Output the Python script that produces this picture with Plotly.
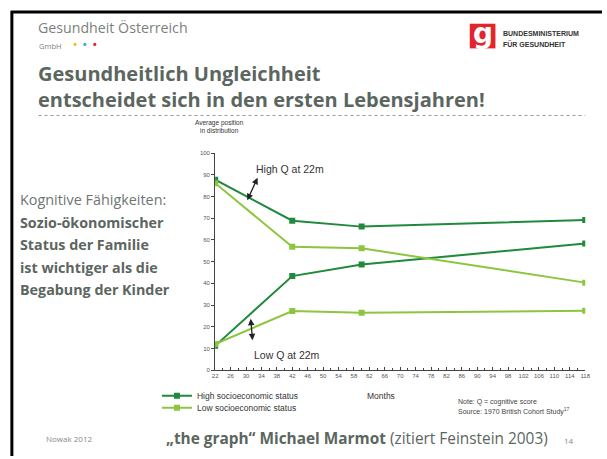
import plotly.graph_objects as go

W, H = 607, 459

months = [22, 42, 60, 118]
high_ses_high_q = [87.7, 68.8, 66.1, 69.2]
low_ses_high_q = [86.1, 56.8, 56.1, 40.3]
high_ses_low_q = [11.2, 43.3, 48.7, 58.3]
low_ses_low_q = [12.0, 27.2, 26.4, 27.3]

x_ticks = list(range(22, 119, 4))
y_ticks = list(range(0, 101, 10))

DARK = "#1f8a3b"
LIGHT = "#8cc63e"
SLIDE = "#5c6660"
CHART_FONT = "Liberation Sans"
SLIDE_FONT = "Open Sans"


def px(x):
    return x / W


def py(y):
    return 1 - y / H


fig = go.Figure()

series = [
    (high_ses_high_q, DARK, "High socioeconomic status", True, "legend"),
    (high_ses_low_q, DARK, "High socioeconomic status", False, "legend"),
    (low_ses_high_q, LIGHT, "Low socioeconomic status", True, "legend2"),
    (low_ses_low_q, LIGHT, "Low socioeconomic status", False, "legend2"),
]
for vals, col, name, show, lg in series:
    fig.add_trace(go.Scatter(
        x=months, y=vals, mode="lines+markers", name=name,
        legend=lg, legendgroup=lg, showlegend=show,
        line=dict(color=col, width=2),
        marker=dict(symbol="square", size=6, color=col),
    ))

leg_common = dict(xanchor="left", yanchor="middle",
                  font=dict(family=CHART_FONT, size=8.5, color="#333"),
                  itemwidth=30, bgcolor="rgba(0,0,0,0)", borderwidth=0)

fig.update_layout(
    width=W, height=H,
    margin=dict(l=0, r=0, t=0, b=0),
    paper_bgcolor="white", plot_bgcolor="white",
    showlegend=True,
    legend=dict(x=px(156), y=py(398), **leg_common),
    legend2=dict(x=px(156), y=py(410), **leg_common),
    xaxis=dict(
        domain=[px(215), px(590)], range=[22, 118],
        tickvals=x_ticks, ticktext=[str(v) for v in x_ticks],
        showline=True, linecolor="#444", linewidth=1,
        ticks="inside", ticklen=3, tickcolor="#444",
        minor=dict(dtick=2, tick0=22, ticks="inside", ticklen=2, tickcolor="#444"),
        showgrid=False, zeroline=False,
        tickfont=dict(family=CHART_FONT, size=6, color="#555"),
        anchor="y",
    ),
    yaxis=dict(
        domain=[py(372), py(152)], range=[0, 100],
        tickvals=y_ticks,
        showline=True, linecolor="#444", linewidth=1,
        ticks="outside", ticklen=3, tickcolor="#444",
        showgrid=False, zeroline=False,
        tickfont=dict(family=CHART_FONT, size=6, color="#555"),
        anchor="x",
    ),
)

ann = []


def text(x, y, s, size, color=SLIDE, family=SLIDE_FONT, xanchor="left", yanchor="middle", align="left"):
    ann.append(dict(x=px(x), y=py(y), xref="paper", yref="paper", text=s, showarrow=False,
                    xanchor=xanchor, yanchor=yanchor, align=align,
                    font=dict(family=family, size=size, color=color)))


# Header
text(33, 25, "Gesundheit Österreich", 14.2, color="#7b807d")
text(34, 44, "GmbH", 7.5, color="#7b807d")
text(505, 31, "<b>BUNDESMINISTERIUM</b>", 7, color="#333", family=CHART_FONT)
text(505, 42, "<b>FÜR GESUNDHEIT</b>", 7, color="#333", family=CHART_FONT)
ann.append(dict(x=px(486), y=py(31), xref="paper", yref="paper", text="<b>g</b>", showarrow=False,
                font=dict(family="DejaVu Sans", size=28, color="white"), xanchor="center", yanchor="middle"))

# Title
text(33, 85, "<b>Gesundheitlich Ungleichheit<br>entscheidet sich in den ersten Lebensjahren!</b>", 20)

# Left text
text(15, 199, "Kognitive Fähigkeiten:", 14.4, color="#6e7571")
text(15, 222, "<b>Sozio-ökonomischer</b>", 14.3)
text(15, 245, "<b>Status der Familie</b>", 14.3)
text(15, 268, "<b>ist wichtiger als die</b>", 14.3)
text(15, 290, "<b>Begabung der Kinder</b>", 14.3)

# Chart labels
text(219, 125, "Average position<br>in distribution", 6.5, color="#333", family=CHART_FONT,
     xanchor="center", align="center")
text(254, 168, "High Q at 22m", 10.5, color="#333", family=CHART_FONT)
text(252, 357, "Low Q at 22m", 10.5, color="#333", family=CHART_FONT)
text(383, 398, "Months", 8.5, color="#333", family=CHART_FONT, xanchor="center")
text(459, 404, "Note: Q = cognitive score", 7, color="#444", family=CHART_FONT)
text(459, 414, "Source: 1970 British Cohort Study<sup>17</sup>", 7, color="#444", family=CHART_FONT)

# Footer
text(42, 441, "Nowak 2012", 8, color="#888")
text(163, 441, "<b>„the graph“ Michael Marmot</b> (zitiert Feinstein 2003)", 15.4)
text(566, 443, "14", 8, color="#888")

# Arrows
for (x0, y0, x1, y1) in [(247, 201, 258, 177), (253, 343, 251, 320)]:
    ann.append(dict(x=px(x1), y=py(y1), xref="paper", yref="paper",
                    ax=x0 - x1, ay=y0 - y1, axref="pixel", ayref="pixel",
                    text="", showarrow=True, arrowhead=2, startarrowhead=2,
                    arrowside="end+start", arrowsize=1, arrowwidth=1.3, arrowcolor="#222"))

fig.update_layout(annotations=ann)

shapes = [
    dict(type="line", xref="paper", yref="paper", x0=px(8), x1=1, y0=py(9), y1=py(9),
         line=dict(color="black", width=3)),
    dict(type="line", xref="paper", yref="paper", x0=px(9), x1=px(9), y0=py(8), y1=0,
         line=dict(color="black", width=3)),
    dict(type="line", xref="paper", yref="paper", x0=px(36), x1=px(590), y0=py(114), y1=py(114),
         line=dict(color="#999", width=1, dash="dot")),
    dict(type="rect", xref="paper", yref="paper", x0=px(473), x1=px(499), y0=py(46), y1=py(21),
         fillcolor="#e3242b", line=dict(width=0), layer="below"),
]
for cx, col in [(73, "#f5c400"), (83, "#3fa9e0"), (93, "#e3242b")]:
    shapes.append(dict(type="circle", xref="paper", yref="paper",
                       x0=px(cx - 1.6), x1=px(cx + 1.6), y0=py(43.6), y1=py(40.4),
                       fillcolor=col, line=dict(width=0)))
fig.update_layout(shapes=shapes)

fig.write_html("out.html", config={"displayModeBar": False},
               post_script="document.body.style.margin='0px';")
